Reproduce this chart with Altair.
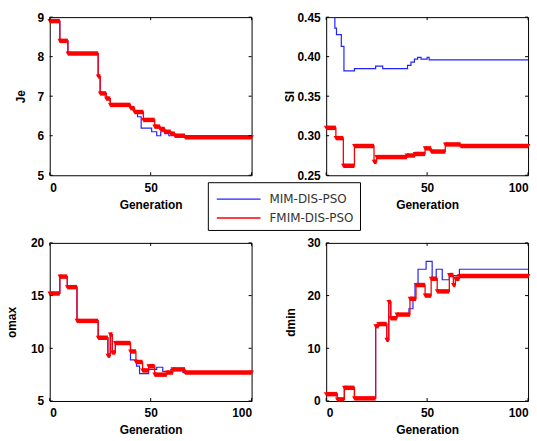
import altair as alt
import pandas as pd

METHODS = ["MIM-DIS-PSO", "FMIM-DIS-PSO"]
BLUE = "#2323ff"
RED = "#ff0000"
GEN_TICKS = [0, 50, 100]

# Panel 1: Je
je_blue_x = [0, 5, 9, 24, 25, 28, 30, 40, 42, 43.5, 45.3, 50.5, 53, 55, 57, 59, 62, 67, 100]
je_blue_y = [8.9, 8.4, 8.08, 7.5, 7.07, 6.94, 6.78, 6.7, 6.6, 6.48, 6.19, 6.1, 6.0, 6.1, 6.05, 6.0, 6.0, 5.96, 5.96]
je_red_x = [0, 5, 9, 24, 25, 28, 30, 40, 42, 46.4, 52, 54.7, 57, 60, 62, 67, 100]
je_red_y = [8.9, 8.4, 8.08, 7.5, 7.07, 6.94, 6.78, 6.7, 6.6, 6.4, 6.23, 6.17, 6.1, 6.05, 6.0, 5.96, 5.96]
je_ticks = [5, 6, 7, 8, 9]

# Panel 2: SI
si_blue_x = [0, 4.3, 5.1, 7.5, 8.8, 14, 24.5, 28, 38.6, 40.3, 42, 43.7, 45.3, 47, 50, 51, 100]
si_blue_y = [0.45, 0.436, 0.428, 0.413, 0.382, 0.385, 0.388, 0.385, 0.385, 0.389, 0.393, 0.397, 0.399, 0.397, 0.399, 0.396, 0.396]
si_red_x = [0, 4.8, 8.5, 14, 23.7, 25, 40, 44, 49, 52, 59, 66.6, 100]
si_red_y = [0.31, 0.297, 0.262, 0.287, 0.267, 0.273, 0.275, 0.277, 0.284, 0.280, 0.289, 0.287, 0.287]
si_ticks = [0.25, 0.3, 0.35, 0.4, 0.45]

# Panel 3: omax
om_blue_x = [0, 5, 8.7, 13.5, 24, 28.8, 30, 31, 32.5, 40, 43, 44.5, 49, 53, 56, 60, 66, 100]
om_blue_y = [15.2, 16.8, 15.8, 12.6, 11.0, 9.3, 11.3, 9.6, 10.5, 8.9, 8.3, 7.6, 8.0, 8.2, 7.8, 8.0, 7.7, 7.7]
om_red_x = [0, 5, 8.7, 13.5, 24, 28.8, 30, 31, 32.5, 40, 42.7, 46, 49, 52, 58, 61, 67, 100]
om_red_y = [15.2, 16.8, 15.8, 12.6, 11.0, 9.3, 11.3, 9.6, 10.5, 9.7, 8.7, 7.9, 8.3, 7.5, 7.7, 8.0, 7.7, 7.7]
om_ticks = [5, 10, 15, 20]

# Panel 4: dmin
dm_blue_x = [0, 5.5, 9, 14, 24.5, 26, 30, 31, 32, 35, 41, 43, 44, 45.5, 49.5, 52.5, 54.5, 57.5, 61, 66, 100]
dm_blue_y = [1.3, 0.3, 2.5, 0.5, 14.2, 14.6, 11.6, 18.8, 15.7, 16.4, 17.5, 19.5, 22.0, 25.0, 26.5, 23.0, 25.0, 23.0, 23.8, 25.0, 25.0]
dm_red_x = [0, 5.5, 9, 14, 24.5, 26, 30, 31, 32, 35, 41.5, 44.5, 49, 52, 55, 61, 63, 64, 66, 100]
dm_red_y = [1.3, 0.3, 2.5, 0.5, 14.2, 14.6, 11.6, 18.8, 15.7, 16.4, 19.4, 22.0, 20.0, 23.2, 20.8, 23.9, 22.0, 23.2, 23.7, 23.7]
dm_ticks = [0, 10, 20, 30]

W, H = 203, 159
FONT = "Liberation Sans"


def steps(xs, ys, method):
    df = pd.DataFrame({"x": xs, "y": ys, "method": method})
    df["x2"] = df["x"].shift(-1).fillna(df["x"])
    return df


def panel(bx, by, rx, ry, title, ydom, yticks, title_pad, show_legend=False):
    blue = steps(bx, by, METHODS[0])
    red = steps(rx, ry, METHODS[1])
    xs = alt.Scale(domain=[0, 100], nice=False, zero=False)
    ys = alt.Scale(domain=ydom, nice=False, zero=False)
    cscale = alt.Scale(domain=METHODS, range=[BLUE, RED])
    if show_legend:
        leg = alt.Legend(orient="none", legendX=159, legendY=166, title=None,
                         fillColor="white", strokeColor="black", padding=6,
                         symbolType="M-2.2,0H2.2", symbolStrokeWidth=1.5, symbolSize=400,
                         symbolOffset=14, labelOffset=20,
                         labelFont="DejaVu Sans", labelFontSize=12,
                         labelColor="#333333", rowPadding=2)
        color = alt.Color("method:N", scale=cscale, legend=leg)
    else:
        color = alt.Color("method:N", scale=cscale, legend=None)

    xaxis = alt.Axis(values=GEN_TICKS, title="Generation", format="d", labelPadding=7, titlePadding=6)
    yaxis = alt.Axis(values=yticks, title=title, titlePadding=title_pad, labelPadding=6)
    X = alt.X("x:Q", scale=xs, axis=xaxis)
    Y = alt.Y("y:Q", scale=ys, axis=yaxis)
    blue_line = alt.Chart(blue).mark_line(interpolate="step-after", strokeWidth=1.2, clip=True).encode(
        x=X, y=Y, color=color)
    red_line = alt.Chart(red).mark_line(interpolate="step-after", strokeWidth=1.3).encode(
        x=X, y=Y, color=color)
    red_band = alt.Chart(red).mark_rule(strokeWidth=4.5).encode(
        x=X, x2="x2:Q", y=Y, color=color)
    red_pts = alt.Chart(red).mark_point(shape="triangle-down", filled=True, size=22, opacity=1).encode(
        x=X, y=Y, color=color)

    yt = pd.DataFrame({"v": yticks})
    xt = pd.DataFrame({"v": GEN_TICKS})
    TY = alt.Y("v:Q", scale=ys, axis=yaxis)
    TX = alt.X("v:Q", scale=xs, axis=xaxis)
    tl = alt.Chart(yt).mark_rule(color="black", strokeWidth=1).encode(
        y=TY, x=alt.value(0), x2=alt.value(3))
    tr = alt.Chart(yt).mark_rule(color="black", strokeWidth=1).encode(
        y=TY, x=alt.value(W - 3), x2=alt.value(W))
    tb = alt.Chart(xt).mark_rule(color="black", strokeWidth=1).encode(
        x=TX, y=alt.value(H - 3), y2=alt.value(H))
    tt = alt.Chart(xt).mark_rule(color="black", strokeWidth=1).encode(
        x=TX, y=alt.value(0), y2=alt.value(3))

    return alt.layer(blue_line, red_line, red_band, red_pts, tl, tr, tb, tt).properties(width=W, height=H)


p1 = panel(je_blue_x, je_blue_y, je_red_x, je_red_y, "Je", [5, 9], je_ticks, 10, show_legend=True)
p2 = panel(si_blue_x, si_blue_y, si_red_x, si_red_y, "SI", [0.25, 0.45], si_ticks, 1)
p3 = panel(om_blue_x, om_blue_y, om_red_x, om_red_y, "omax", [5, 20], om_ticks, 12)
p4 = panel(dm_blue_x, dm_blue_y, dm_red_x, dm_red_y, "dmin", [0, 30], dm_ticks, 10)

chart = alt.concat(p1, p2, p3, p4, columns=2, spacing=alt.RowColnumber(row=68, column=75)).properties(
    bounds="flush",
    padding={"left": 5, "top": 9, "right": 5, "bottom": 5},
).configure_view(stroke="black", strokeWidth=1).configure_axis(
    domain=False, ticks=False, grid=False,
    labelFont=FONT, labelFontSize=12, labelFontWeight="bold", labelColor="black",
    titleFont=FONT, titleFontSize=12, titleFontWeight="bold", titleColor="black",
)

chart.save("out.html", embed_options={"renderer": "svg", "actions": False})
